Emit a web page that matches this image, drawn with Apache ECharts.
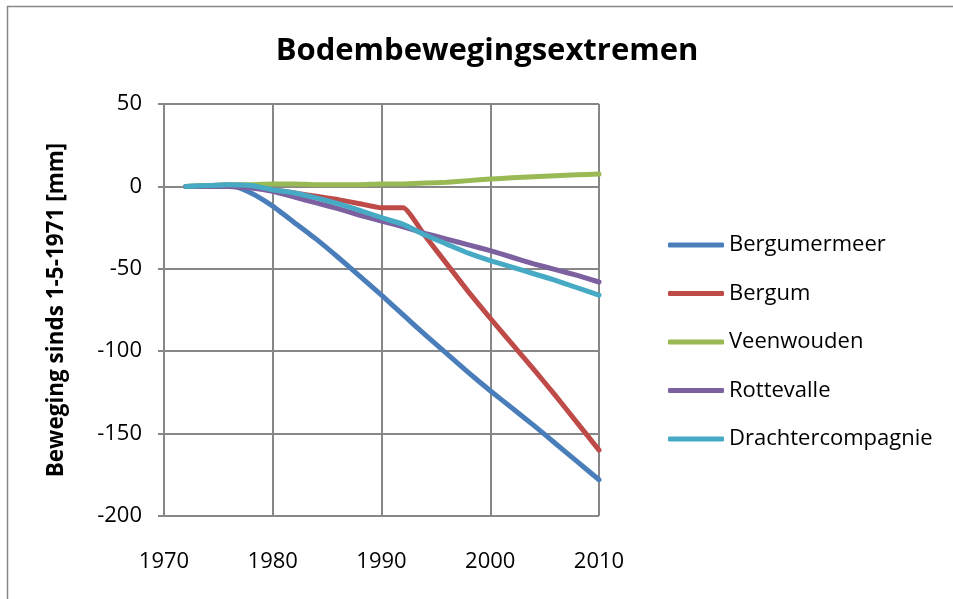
<!DOCTYPE html>
<html>
<head>
<meta charset="utf-8">
<script src="https://cdn.jsdelivr.net/npm/echarts@6/dist/echarts.min.js"></script>
<style>
  html, body { margin: 0; padding: 0; background: #fff; }
  #chart { width: 953px; height: 599px; }
</style>
</head>
<body>
<div id="chart"></div>
<script>
// meetjaren (x-as)
const years = [1972, 1974, 1976, 1978, 1980, 1982, 1984, 1986, 1988, 1990,
               1992, 1994, 1996, 1998, 2000, 2002, 2004, 2006, 2008, 2010];

const bergumermeer = [0, 0.5, 1, -4, -12, -22, -32, -43, -54.5, -66,
                      -78, -90, -101.5, -113, -124, -134.5, -145, -156, -167, -178];
const bergum = [0, 0, 0, -0.5, -2, -4, -6, -8, -10.5, -13,
                -13, -30, -47, -64, -80, -95.5, -111, -127, -143.5, -160];
const veenwouden = [0, 0.5, 1, 1, 1.5, 1.5, 1, 1, 1, 1.5,
                    1.5, 2, 2.5, 3.5, 4.5, 5.2, 5.9, 6.5, 7, 7.5];
const rottevalle = [0, 0, 0, -1, -3, -6.5, -10, -13.5, -17.5, -21,
                    -24.5, -28.5, -32, -35.5, -39, -43, -47, -50.5, -54, -58];
const drachtercompagnie = [0, 0.5, 1, 0.5, -2, -4, -7, -10.5, -14.5, -19,
                           -23, -29.5, -35, -40.5, -45, -49, -53, -57, -61.5, -66];

const seriesNames = ['Bergumermeer', 'Bergum', 'Veenwouden', 'Rottevalle', 'Drachtercompagnie'];
const seriesValues = [bergumermeer, bergum, veenwouden, rottevalle, drachtercompagnie];
const colors = ['#4a7ebb', '#be4b48', '#98b954', '#7d60a0', '#46aac5'];

const fontFamily = '"Open Sans", sans-serif';

const chart = echarts.init(document.getElementById('chart'));

const option = {
    animation: false,
    color: colors,
    title: {
        text: 'Bodembewegingsextremen',
        left: 482,
        top: 31,
        textAlign: 'center',
        textStyle: { fontFamily, fontSize: 31, fontWeight: 'bold', color: '#000' }
    },
    graphic: [{
        type: 'rect',
        shape: { x: 7.5, y: 6.5, width: 960, height: 620 },
        style: { fill: 'none', stroke: '#878787', lineWidth: 1.5 },
        silent: true
    }],
    legend: {
        orient: 'vertical',
        left: 663,
        top: 229,
        itemWidth: 56,
        itemHeight: 5,
        itemGap: 26.5,
        icon: 'roundRect',
        textStyle: { fontFamily, fontSize: 22, color: '#000', lineHeight: 22 },
        data: seriesNames
    },
    grid: { left: 164, right: 354, top: 104, bottom: 83 },
    xAxis: {
        type: 'value',
        min: 1970,
        max: 2010,
        interval: 10,
        axisLine: { lineStyle: { color: '#878787', width: 2 } },
        axisTick: { show: true, length: 6, lineStyle: { color: '#878787', width: 2 } },
        splitLine: { show: true, lineStyle: { color: '#878787', width: 2 } },
        axisLabel: { fontFamily, fontSize: 22, color: '#000', margin: 35, formatter: v => String(v) }
    },
    yAxis: {
        type: 'value',
        min: -200,
        max: 50,
        interval: 50,
        name: 'Beweging sinds 1-5-1971 [mm]',
        nameLocation: 'middle',
        nameGap: 96,
        nameTextStyle: { fontFamily, fontSize: 22.5, fontWeight: 'bold', color: '#000' },
        axisLine: { show: true, lineStyle: { color: '#878787', width: 2 } },
        axisTick: { show: true, length: 6, lineStyle: { color: '#878787', width: 2 } },
        splitLine: { show: true, lineStyle: { color: '#878787', width: 2 } },
        axisLabel: { fontFamily, fontSize: 22, color: '#000', margin: 22 }
    },
    series: seriesNames.map((name, i) => ({
        name: name,
        type: 'line',
        symbol: 'none',
        smooth: 0.15,
        lineStyle: { width: 5, color: colors[i], cap: 'round', join: 'round' },
        itemStyle: { color: colors[i] },
        data: years.map((y, j) => [y, seriesValues[i][j]])
    }))
};

chart.setOption(option);
</script>
</body>
</html>
